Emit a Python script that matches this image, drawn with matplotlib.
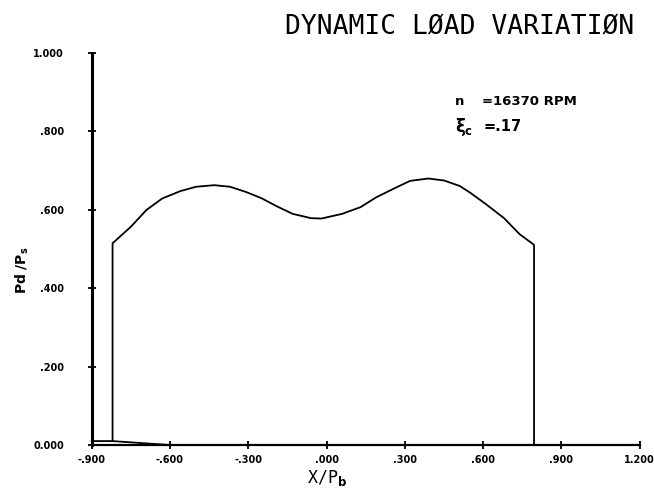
import numpy
import matplotlib
matplotlib.use("Agg")
import matplotlib.pylab as plt

# dynamic load curve  Pd/Ps vs X/Pb
x_load = [-0.900, -0.820, -0.820, -0.75, -0.69, -0.63, -0.56, -0.50, -0.43, -0.37,
          -0.31, -0.25, -0.19, -0.13, -0.06, -0.02, 0.06, 0.13, 0.19, 0.26,
          0.32, 0.39, 0.45, 0.51, 0.55, 0.61, 0.68, 0.74, 0.795, 0.795]
y_load = [0.010, 0.010, 0.514, 0.556, 0.599, 0.628, 0.647, 0.658, 0.662, 0.658,
          0.645, 0.629, 0.608, 0.589, 0.578, 0.577, 0.589, 0.606, 0.631, 0.654,
          0.673, 0.679, 0.674, 0.660, 0.643, 0.614, 0.578, 0.537, 0.510, 0.0]

# short sloping piece at the bottom left
x_base = [-0.820, -0.600]
y_base = [0.010, 0.000]

xticks = [-0.9, -0.6, -0.3, 0.0, 0.3, 0.6, 0.9, 1.2]
xticklabels = ["-.900", "-.600", "-.300", ".000", ".300", ".600", ".900", "1.200"]
yticks = [0.0, 0.2, 0.4, 0.6, 0.8, 1.0]
yticklabels = ["0.000", ".200", ".400", ".600", ".800", "1.000"]

fig = plt.figure(figsize=(6.54, 4.96), dpi=100)
ax = fig.add_axes([0.1402, 0.1028, 0.838, 0.7913])

ax.plot(x_load, y_load, color='black', lw=1.3, clip_on=False)
ax.plot(x_base, y_base, color='black', lw=1.3, clip_on=False)

ax.set_xlim(-0.9, 1.2)
ax.set_ylim(0.0, 1.0)

for s in ['top', 'right']:
    ax.spines[s].set_visible(False)
ax.spines['left'].set_linewidth(2.2)
ax.spines['bottom'].set_linewidth(1.6)

ax.set_xticks(xticks)
ax.set_xticklabels(xticklabels)
ax.set_yticks(yticks)
ax.set_yticklabels(yticklabels)
ax.tick_params(axis='both', direction='inout', length=6, width=1.3, labelsize=7)
ax.tick_params(axis='x', pad=4)
ax.tick_params(axis='y', pad=17)
for lab in ax.get_xticklabels() + ax.get_yticklabels():
    lab.set_fontweight('bold')

ax.set_xlabel("X/P$_\\mathbf{b}$", fontsize=12, family='DejaVu Sans Mono', va='center')
ax.xaxis.set_label_coords(0.429, -0.084)
ax.set_ylabel("Pd /P$_\\mathregular{s}$", fontsize=10, fontweight='bold', va='center')
ax.yaxis.set_label_coords(-0.127, 0.446)

ax.text(0.492, 0.875, "n", fontsize=9.5, fontweight='semibold', va='center', ha='left')
ax.text(0.594, 0.875, "=16370 RPM", fontsize=9.5, fontweight='semibold', va='center', ha='left')
ax.text(0.492, 0.811, "$\\mathbf{\\xi_c}$", fontsize=12, va='center', ha='left')
ax.text(0.600, 0.811, "=.17", fontsize=10.5, fontweight='semibold', va='center', ha='left')

fig.text(0.703, 0.944, "DYNAMIC LØAD VARIATIØN", fontsize=19, family='DejaVu Sans Mono',
         ha='center', va='center')

plt.savefig("out.png", dpi=100)
